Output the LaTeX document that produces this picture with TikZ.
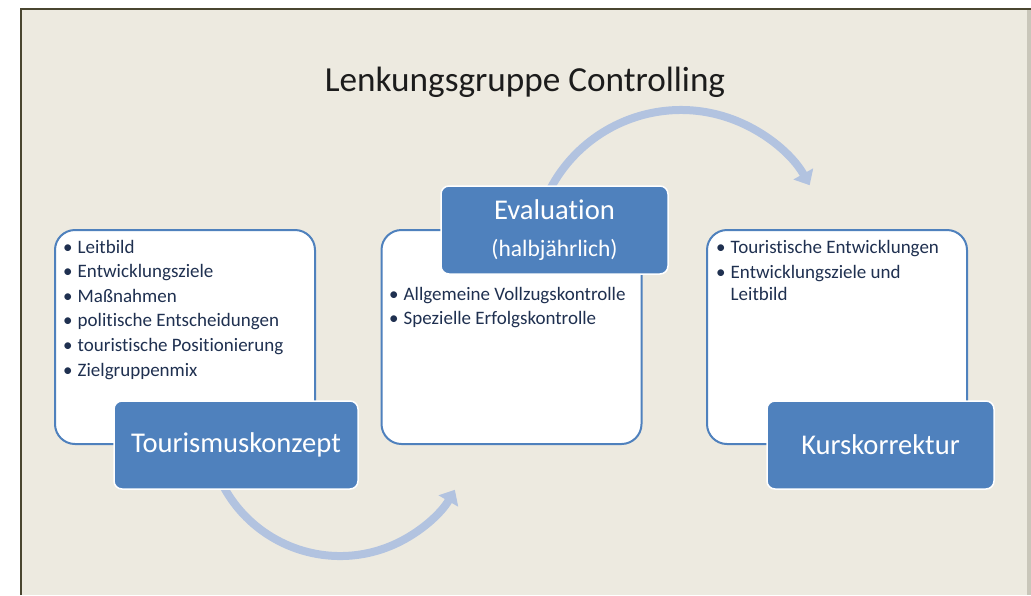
\documentclass[tikz,border=0pt]{standalone}
\usepackage{fontspec}
\setmainfont{Carlito}[Ligatures=NoCommon]
\usetikzlibrary{arrows.meta}
\definecolor{bg}{HTML}{EDEAE0}
\definecolor{framec}{HTML}{4A4630}
\definecolor{strip}{HTML}{C9C6BA}
\definecolor{boxblue}{HTML}{4F81BD}
\definecolor{arcc}{HTML}{B2C3E0}
\definecolor{txt}{HTML}{1F3050}
\definecolor{ttl}{HTML}{1C1C1C}
\newcommand\bl{\makebox[14.5pt][l]{•}}
\begin{document}
\begin{tikzpicture}[x=1pt,y=-1pt,
 wbox/.style={draw=boxblue, line width=2pt, fill=white, rounded corners=20pt, minimum width=260pt, minimum height=214pt, inner sep=0pt},
 bbox/.style={draw=white, line width=1.5pt, fill=boxblue, rounded corners=8pt, minimum height=88pt, inner sep=0pt, text=white, font=\fontsize{28.6}{37}\selectfont, align=center},
 bul/.style={anchor=base west, inner sep=0pt, text=txt, font=\fontsize{19}{22}\selectfont},
 cyc/.style={draw=arcc, line width=8pt, -{Triangle[length=13pt,width=22pt]}},
]
\useasboundingbox (0,0) rectangle (1031,595);
\fill[white] (0,0) rectangle (1031,595);
\fill[bg] (21,9) rectangle (1027,595);
\fill[strip] (1027,9) rectangle (1031,595);
\draw[framec, line width=2pt] (21,595) -- (21,9) -- (1031,9);

\node[anchor=base, text=ttl, font=\fontsize{35.2}{40}\selectfont, inner sep=0pt] (title) at (525,91) {Lenkungsgruppe Controlling};

\coordinate (c1s) at (220,479.5);
\draw[cyc] (c1s) arc[start angle=205, end angle=330, radius=132.5pt];
\coordinate (c2s) at (542.2,207.2);
\draw[cyc] (c2s) arc[start angle=160, end angle=29.4, radius=147.7pt];

\node[wbox] (k1) at (185,337) {};
\node[wbox] (k2) at (511.5,337) {};
\node[wbox] (k3) at (837,337) {};

\node[bbox, minimum width=244pt] (b1) at (236,445) {Tourismuskonzept};
\node[bbox, minimum width=227pt] (b2) at (554.5,230) {Evaluation\\{\fontsize{23.5}{37}\selectfont(halbjährlich)}};
\node[bbox, minimum width=227pt] (b3) at (880.5,445) {Kurskorrektur};

\foreach \t [count=\i from 0] in {Leitbild, Entwicklungsziele, Maßnahmen, politische Entscheidungen, touristische Positionierung, Zielgruppenmix}
  \node[bul] (l\i) at (63,{253+\i*24.6}) {\bl\t};

\node[bul] (m0) at (389,300) {\bl Allgemeine Vollzugskontrolle};
\node[bul] (m1) at (389,324) {\bl Spezielle Erfolgskontrolle};

\node[bul] (r0) at (716,253) {\bl Touristische Entwicklungen};
\node[bul] (r1) at (716,278) {\bl Entwicklungsziele und};
\node[bul] (r2) at (730.5,300) {Leitbild};
\end{tikzpicture}
\end{document}
